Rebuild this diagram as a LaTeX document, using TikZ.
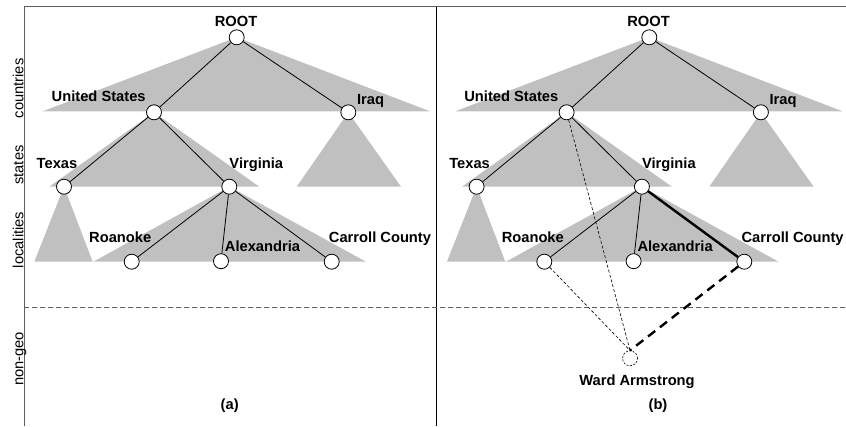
\documentclass[tikz,border=0pt]{standalone}
\usepackage{fontspec}
\setmainfont{Liberation Sans}
\definecolor{hellgrau}{RGB}{192,192,192}
\definecolor{rahmengrau}{RGB}{95,95,95}
\begin{document}
\begin{tikzpicture}[x=1pt, y=-1pt,
	knoten/.style={circle, draw=black, fill=white, line width=0.8pt, minimum size=15pt, inner sep=0pt},
	beschriftung/.style={anchor=base, inner sep=0pt, font=\fontsize{14.7}{17}\selectfont\bfseries},
	ebene/.style={rotate=90, anchor=base, inner sep=0pt, font=\fontsize{14.7}{17}\selectfont},
	kante/.style={line width=0.8pt},
	gebiet/.style={fill=hellgrau}]
	\useasboundingbox (0,0) rectangle (846,426);
	% Rahmen
	\draw[rahmengrau, line width=1.2pt] (24.3,426) -- (24.3,6.7) -- (846,6.7);
	\draw[black, line width=1.3pt] (436.7,6.7) -- (436.7,426);
	\draw[rahmengrau, line width=0.7pt, dash pattern=on 5pt off 3pt] (24.3,307.3) -- (846,307.3);
	% Ebenen links
	\node[ebene] (countries) at (23.3,88.3) {countries};
	\node[ebene] (states) at (23.3,165) {states};
	\node[ebene] (localities) at (23.3,240) {localities};
	\node[ebene] (nongeo) at (23.3,359) {non-geo};
	% Baeume (a) und (b)
	\foreach \p/\dx in {a/0, b/412.6} {
		% Gebiete
		\fill[gebiet] (236.7+\dx,37.3) -- (42.7+\dx,111.3) -- (430+\dx,111.3) -- cycle;
		\fill[gebiet] (154+\dx,112.3) -- (49.3+\dx,186.7) -- (259.3+\dx,186.7) -- cycle;
		\fill[gebiet] (348.3+\dx,112.3) -- (296.7+\dx,186.7) -- (401+\dx,186.7) -- cycle;
		\fill[gebiet] (64+\dx,186.7) -- (34.3+\dx,261.7) -- (92.7+\dx,261.7) -- cycle;
		\fill[gebiet] (229.3+\dx,186.7) -- (93.3+\dx,261.7) -- (366+\dx,261.7) -- cycle;
		% Knoten
		\node[knoten] (root\p) at (236.7+\dx,37.3) {};
		\node[knoten] (us\p) at (154+\dx,112.3) {};
		\node[knoten] (iraq\p) at (348.3+\dx,112.3) {};
		\node[knoten] (texas\p) at (64+\dx,186.7) {};
		\node[knoten] (virginia\p) at (229.3+\dx,186.7) {};
		\node[knoten] (roanoke\p) at (131.7+\dx,261.7) {};
		\node[knoten] (alexandria\p) at (221+\dx,261.2) {};
		\node[knoten] (carroll\p) at (331.7+\dx,261.7) {};
		% Kanten
		\draw[kante] (root\p) -- (us\p);
		\draw[kante] (root\p) -- (iraq\p);
		\draw[kante] (us\p) -- (texas\p);
		\draw[kante] (us\p) -- (virginia\p);
		\draw[kante] (virginia\p) -- (roanoke\p);
		\draw[kante] (virginia\p) -- (alexandria\p);
		\draw[kante] (virginia\p) -- (carroll\p);
		% Namen
		\node[beschriftung] (lroot\p) at (236+\dx,26.7) {ROOT};
		\node[beschriftung] (lus\p) at (98.7+\dx,101.7) {United States};
		\node[beschriftung] (liraq\p) at (370.5+\dx,104) {Iraq};
		\node[beschriftung] (ltexas\p) at (57+\dx,168.3) {Texas};
		\node[beschriftung] (lvirginia\p) at (256.3+\dx,168.3) {Virginia};
		\node[beschriftung] (lroanoke\p) at (120.2+\dx,242.3) {Roanoke};
		\node[beschriftung] (lalexandria\p) at (262.5+\dx,251.7) {Alexandria};
		\node[beschriftung] (lcarroll\p) at (380+\dx,242.3) {Carroll County};
	}
	% Unterschriften
	\node[beschriftung] (capa) at (229.7,409.5) {(a)};
	\node[beschriftung] (capb) at (658,409.5) {(b)};
	% Ward Armstrong
	\node[knoten, line width=0.6pt, dash pattern=on 2pt off 1.5pt] (ward) at (630,358.3) {};
	\node[beschriftung] (lward) at (637,385) {Ward Armstrong};
	\draw[line width=2.4pt] (virginiab) -- (carrollb);
	\draw[line width=0.6pt, dash pattern=on 3pt off 2pt] (roanokeb) -- (ward.north);
	\draw[line width=0.6pt, dash pattern=on 3pt off 2pt] (usb) -- (ward.north);
	\draw[line width=2.4pt, dash pattern=on 9pt off 6pt] (carrollb) -- (ward.north);
\end{tikzpicture}
\end{document}
